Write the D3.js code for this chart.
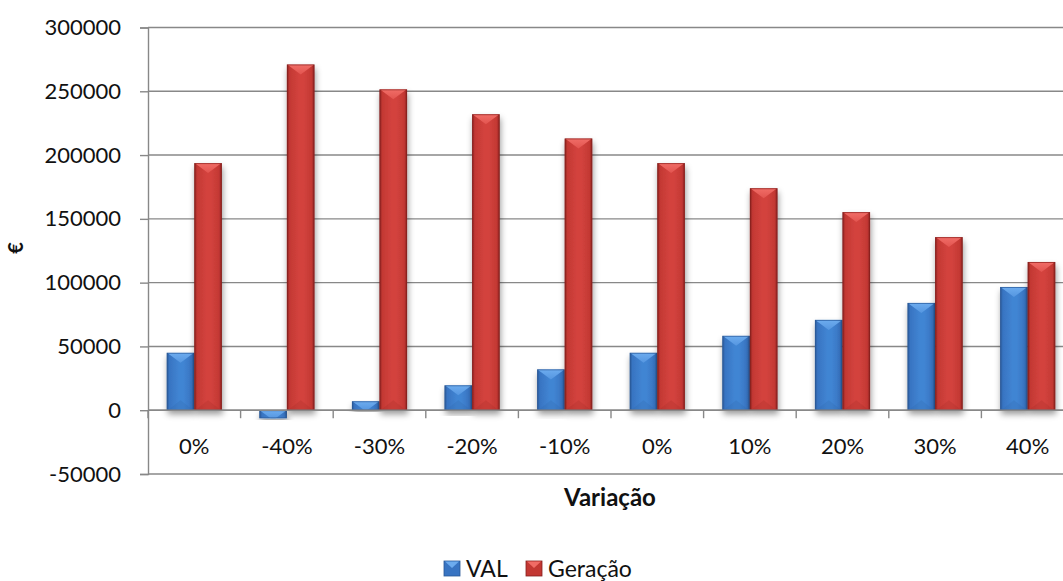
<!DOCTYPE html>
<html>
<head>
<meta charset="utf-8">
<script src="https://cdn.jsdelivr.net/npm/d3@7"></script>
<style>
  html, body { margin: 0; padding: 0; background: #fff; overflow: hidden; }
  svg { display: block; font-family: Lato, "Open Sans", sans-serif; }
</style>
</head>
<body>
<svg id="chart" width="1063" height="581"></svg>
<script>
// Sensitivity of VAL and Geração to a percentage variation
const categories = ["0%", "-40%", "-30%", "-20%", "-10%", "0%", "10%", "20%", "30%", "40%"];
const seriesNames = ["VAL", "Geração"];
const valValues = [45000, -6300, 7000, 19500, 32000, 45000, 58300, 70800, 84100, 96600];
const geracaoValues = [193700, 271000, 251500, 232000, 213000, 193700, 174000, 155300, 135700, 116200];
const yTicks = [-50000, 0, 50000, 100000, 150000, 200000, 250000, 300000];

const palette = {
  "VAL":     { edge: "#2a5896", mid: "#3874c2", light: "#4185d3", bevel: "#6cabee", bevelLow: "#5596e0", bevelDark: "#2f66ad" },
  "Geração": { edge: "#86201e", mid: "#c33833", light: "#d3433e", bevel: "#f06c66", bevelLow: "#e2544f", bevelDark: "#a42b28" }
};

const svg = d3.select("#chart");
const plot = { left: 148, right: 1074, top: 27.5, bottom: 474 };

const x = d3.scaleBand()
  .domain(d3.range(categories.length))
  .range([plot.left, plot.right])
  .paddingInner(0).paddingOuter(0);

const xs = d3.scaleBand()
  .domain(seriesNames)
  .range([0, x.bandwidth()])
  .paddingInner(0).paddingOuter(0.68);

const y = d3.scaleLinear().domain([-50000, 300000]).range([plot.bottom, plot.top]);

const defs = svg.append("defs");

// Horizontal shading across each bar (rounded column look)
seriesNames.forEach((s, i) => {
  const c = palette[s];
  const g = defs.append("linearGradient").attr("id", "body" + i)
    .attr("x1", "0%").attr("x2", "100%").attr("y1", "0%").attr("y2", "0%");
  [[0, c.edge], [0.1, c.mid], [0.45, c.light], [0.6, c.light], [0.9, c.mid], [1, c.edge]]
    .forEach(([o, col]) => g.append("stop").attr("offset", o).attr("stop-color", col));
  const b = defs.append("linearGradient").attr("id", "bevel" + i)
    .attr("x1", "0%").attr("x2", "0%").attr("y1", "0%").attr("y2", "100%");
  b.append("stop").attr("offset", 0).attr("stop-color", c.bevel);
  b.append("stop").attr("offset", 1).attr("stop-color", c.bevelLow);
});

const shadow = defs.append("filter").attr("id", "shadow")
  .attr("x", "-30%").attr("y", "-10%").attr("width", "160%").attr("height", "130%");
shadow.append("feDropShadow").attr("dx", 1).attr("dy", 4).attr("stdDeviation", 3)
  .attr("flood-color", "#000").attr("flood-opacity", 0.4);

const gridColor = "#888888";

// Horizontal gridlines
svg.append("g").selectAll("line").data(yTicks).join("line")
  .attr("x1", plot.left).attr("x2", plot.right)
  .attr("y1", d => y(d)).attr("y2", d => y(d))
  .attr("stroke", gridColor).attr("stroke-width", 1.4);

// Value axis with outward ticks
const yAxis = svg.append("g").attr("transform", `translate(${plot.left},0)`)
  .call(d3.axisLeft(y).tickValues(yTicks).tickSize(8).tickPadding(19).tickFormat(d => String(d)));
yAxis.select(".domain").attr("stroke", gridColor).attr("stroke-width", 1.4);
yAxis.selectAll(".tick line").attr("stroke", gridColor).attr("stroke-width", 1.4);
yAxis.selectAll(".tick text").attr("font-size", 22).attr("fill", "#111")
  .attr("font-family", "Lato, sans-serif");

// Bars
const groups = svg.append("g").selectAll("g").data(categories).join("g")
  .attr("transform", (d, i) => `translate(${x(i)},0)`);

const barData = (i) => [
  { s: 0, name: "VAL", v: valValues[i] },
  { s: 1, name: "Geração", v: geracaoValues[i] }
];

groups.each(function(_, i) {
  const g = d3.select(this);
  barData(i).forEach(b => {
    const bx = xs(b.name), w = xs.bandwidth();
    const y0 = y(Math.max(0, b.v)), y1 = y(Math.min(0, b.v));
    const h = y1 - y0;
    const c = palette[b.name];
    const bar = g.append("g");
    bar.append("rect").attr("x", bx).attr("y", y0).attr("width", w).attr("height", h)
      .attr("fill", `url(#body${b.s})`).attr("filter", "url(#shadow)");
    // top bevel facet
    const d = 10;
    const f = Math.min(1, h / d);
    const dd = Math.min(d, h);
    bar.append("polygon")
      .attr("points", [
        [bx + 1, y0 + 0.5], [bx + w - 1, y0 + 0.5],
        [bx + w / 2 + (w / 2 - 1) * (1 - f), y0 + dd],
        [bx + w / 2 - (w / 2 - 1) * (1 - f), y0 + dd]
      ].map(p => p.join(",")).join(" "))
      .attr("fill", `url(#bevel${b.s})`);
    // faint bottom facet
    if (h > 2 * d) {
      bar.append("polygon")
        .attr("points", [[bx + 1, y1], [bx + w - 1, y1], [bx + w / 2, y1 - d]].map(p => p.join(",")).join(" "))
        .attr("fill", c.bevelDark).attr("opacity", 0.25);
    }
    // dark outline edges
    bar.append("rect").attr("x", bx + 0.5).attr("y", y0 + 0.5).attr("width", w - 1).attr("height", Math.max(0, h - 1))
      .attr("fill", "none").attr("stroke", c.edge).attr("stroke-width", 1).attr("opacity", 0.6);
  });
});

// Category axis along zero with boundary ticks below it
const zeroY = y(0);
svg.append("line").attr("x1", plot.left).attr("x2", plot.right)
  .attr("y1", zeroY).attr("y2", zeroY).attr("stroke", gridColor).attr("stroke-width", 1.4);
svg.append("g").selectAll("line").data(d3.range(categories.length + 1)).join("line")
  .attr("x1", i => plot.left + i * x.step()).attr("x2", i => plot.left + i * x.step())
  .attr("y1", zeroY).attr("y2", zeroY + 8)
  .attr("stroke", gridColor).attr("stroke-width", 1.4);
svg.append("g").selectAll("text").data(categories).join("text")
  .attr("x", (d, i) => x(i) + x.bandwidth() / 2)
  .attr("y", zeroY + 36)
  .attr("dy", "0.35em")
  .attr("text-anchor", "middle")
  .attr("font-size", 22).attr("fill", "#111")
  .text(d => d);

// Axis titles
svg.append("text").attr("x", 610).attr("y", 498).attr("dy", "0.35em")
  .attr("text-anchor", "middle").attr("font-size", 24).attr("font-weight", "bold").attr("fill", "#111")
  .text("Variação");
svg.append("text").attr("transform", "translate(16,248) rotate(-90)").attr("dy", "0.35em")
  .attr("text-anchor", "middle").attr("font-size", 20).attr("font-weight", "bold").attr("fill", "#111")
  .text("€");

// Legend
const legend = svg.append("g");
const legendItems = [{ name: "VAL", s: 0, x: 444 }, { name: "Geração", s: 1, x: 526 }];
legendItems.forEach(it => {
  const c = palette[it.name];
  legend.append("rect").attr("x", it.x).attr("y", 561).attr("width", 16).attr("height", 15)
    .attr("fill", c.mid).attr("stroke", c.edge).attr("stroke-width", 0.8);
  legend.append("polygon")
    .attr("points", [[it.x + 1, 561.5], [it.x + 15, 561.5], [it.x + 8, 568]].map(p => p.join(",")).join(" "))
    .attr("fill", c.bevel);
  legend.append("text").attr("x", it.x + 22).attr("y", 569).attr("dy", "0.35em")
    .attr("font-size", 23).attr("fill", "#111").text(it.name);
});
</script>
</body>
</html>
